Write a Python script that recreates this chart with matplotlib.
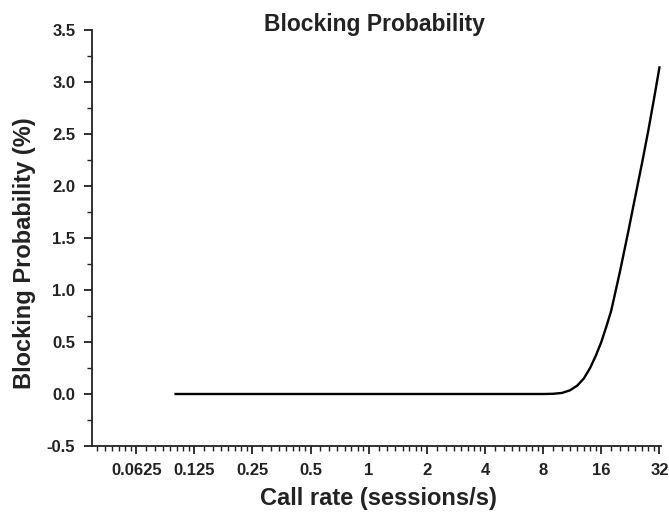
import numpy as np
import matplotlib
matplotlib.use("Agg")
import matplotlib.pyplot as plt
from matplotlib.ticker import LogLocator, FixedLocator, FixedFormatter, MultipleLocator, FormatStrFormatter

plt.rcParams['font.family'] = ['Liberation Sans', 'DejaVu Sans']
plt.rcParams['font.weight'] = 'bold'

# Data
call_rate = [0.1, 0.2, 0.5, 1, 2, 4, 8, 9, 10, 11, 12, 13, 14, 15, 16, 17, 18,
             20, 22, 24, 26, 28, 30, 32]
blocking = [0.0, 0.0, 0.0, 0.0, 0.0, 0.0, 0.0, 0.002, 0.01, 0.035, 0.08, 0.15,
            0.25, 0.37, 0.5, 0.65, 0.8, 1.18, 1.55, 1.9, 2.22, 2.53, 2.84, 3.14]
xtick_vals = [0.0625, 0.125, 0.25, 0.5, 1, 2, 4, 8, 16, 32]
xtick_labels = ['0.0625', '0.125', '0.25', '0.5', '1', '2', '4', '8', '16', '32']

W, H = 669, 513
fig = plt.figure(figsize=(W / 100, H / 100), dpi=100)
ax = fig.add_axes([92 / W, 1 - 446 / H, (661 - 92) / W, (446 - 30) / H])

ax.plot(call_rate, blocking, color='black', lw=1.7)

ax.set_xscale('log', base=2)
ax.set_xlim(0.0369, 32.6)
ax.set_ylim(-0.5, 3.5)

ax.xaxis.set_major_locator(FixedLocator(xtick_vals))
ax.xaxis.set_major_formatter(FixedFormatter(xtick_labels))
ax.xaxis.set_minor_locator(LogLocator(base=2, subs=np.arange(1.125, 2.0, 0.125), numticks=100))
ax.xaxis.set_minor_formatter(plt.NullFormatter())

ax.yaxis.set_major_locator(MultipleLocator(0.5))
ax.yaxis.set_minor_locator(MultipleLocator(0.25))
ax.yaxis.set_major_formatter(FormatStrFormatter('%.1f'))

for s in ['top', 'right']:
    ax.spines[s].set_visible(False)
for s in ['left', 'bottom']:
    ax.spines[s].set_linewidth(1.3)
    ax.spines[s].set_color('#222222')

ax.tick_params(which='major', direction='out', length=6, width=1.3, color='#222222',
               labelsize=12, labelcolor='#222222', pad=6)
ax.tick_params(which='minor', direction='out', length=3.5, width=1.0, color='#222222')

for lab in ax.get_xticklabels() + ax.get_yticklabels():
    lab.set_fontweight('bold')

fig.text(374 / W, 1 - 25 / H, 'Blocking Probability', fontsize=16.5, fontweight='bold',
         color='#222222', ha='center', va='center')
fig.text(378 / W, 1 - 499 / H, 'Call rate (sessions/s)', fontsize=17, fontweight='bold',
         color='#222222', ha='center', va='center')
fig.text(25 / W, 1 - 253 / H, 'Blocking Probability (%)', fontsize=17, fontweight='bold',
         color='#222222', ha='center', va='center', rotation=90)

fig.savefig('out.png', dpi=100)
